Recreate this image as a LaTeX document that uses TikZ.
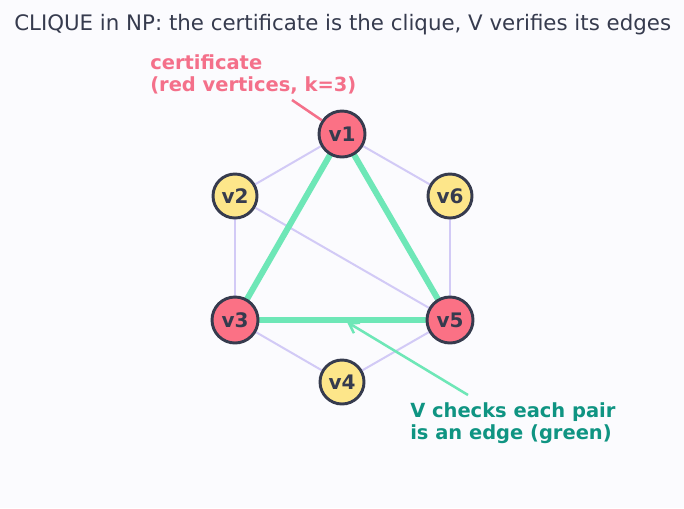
\documentclass[tikz,border=0pt]{standalone}
\usepackage{fontspec}
\setmainfont{DejaVu Sans}
\usetikzlibrary{arrows.meta}
\pgfdeclarelayer{bglayer}
\pgfsetlayers{bglayer,main}
\definecolor{bg}{HTML}{FBFBFE}
\definecolor{ink}{HTML}{363B4E}
\definecolor{redv}{HTML}{FB7185}
\definecolor{yelv}{HTML}{FDE68A}
\definecolor{grn}{HTML}{6EE7B7}
\definecolor{purp}{HTML}{D2CAF6}
\definecolor{teal}{HTML}{0F9482}
\definecolor{redt}{HTML}{F4708A}
\tikzset{
  vtx/.style={circle, draw=ink, line width=2.2pt, inner sep=0pt, font=\fontsize{15pt}{17pt}\selectfont\bfseries, text=ink},
  redvx/.style={vtx, fill=redv, minimum size=34.5pt},
  yelvx/.style={vtx, fill=yelv, minimum size=33pt},
  plain/.style={draw=purp, line width=1.5pt},
  clique/.style={draw=grn, line width=4.5pt},
  note/.style={font=\fontsize{14.6pt}{16.5pt}\selectfont\bfseries, align=left, inner sep=0pt}
}
\begin{document}
\begin{tikzpicture}[x=0.75pt,y=-0.75pt]
\begin{pgfonlayer}{bglayer}
\path[fill=bg] (0,0) rectangle (684,508);
\end{pgfonlayer}
\useasboundingbox (0,0) rectangle (684,508);
\node[anchor=base west, inner sep=0pt, text=ink, font=\fontsize{16pt}{18pt}\selectfont] (title) at (14,30) {CLIQUE in NP: the certificate is the clique, V verifies its edges};

\node[redvx] (v1) at (342,134) {v1};
\node[yelvx] (v2) at (235,196) {v2};
\node[yelvx] (v6) at (450,196) {v6};
\node[redvx] (v3) at (235,320) {v3};
\node[redvx] (v5) at (450,320) {v5};
\node[yelvx] (v4) at (342,382) {v4};

\begin{pgfonlayer}{bglayer}
\draw[plain] (v1.center) -- (v2.center);
\draw[plain] (v1.center) -- (v6.center);
\draw[plain] (v2.center) -- (v3.center);
\draw[plain] (v6.center) -- (v5.center);
\draw[plain] (v3.center) -- (v4.center);
\draw[plain] (v4.center) -- (v5.center);
\draw[plain] (v2.center) -- (v5.center);
\draw[clique] (v1.center) -- (v3.center);
\draw[clique] (v1.center) -- (v5.center);
\draw[clique] (v3.center) -- (v5.center);
\end{pgfonlayer}

\node[note, text=redt, anchor=north west] (cert) at (150,54) {certificate\\(red vertices, k=3)};
\coordinate (certtail) at (292,100);
\draw[draw=redt, line width=1.9pt] (certtail) -- (v1);

\node[note, text=teal, anchor=north west] (chk) at (410,402) {V checks each pair\\is an edge (green)};
\coordinate (chktail) at (468,395);
\coordinate (chktip) at (347,322);
\draw[draw=grn, line width=1.9pt, -{Straight Barb[length=7pt,width=9pt,line width=1.9pt]}] (chktail) -- (chktip);
\end{tikzpicture}
\end{document}
